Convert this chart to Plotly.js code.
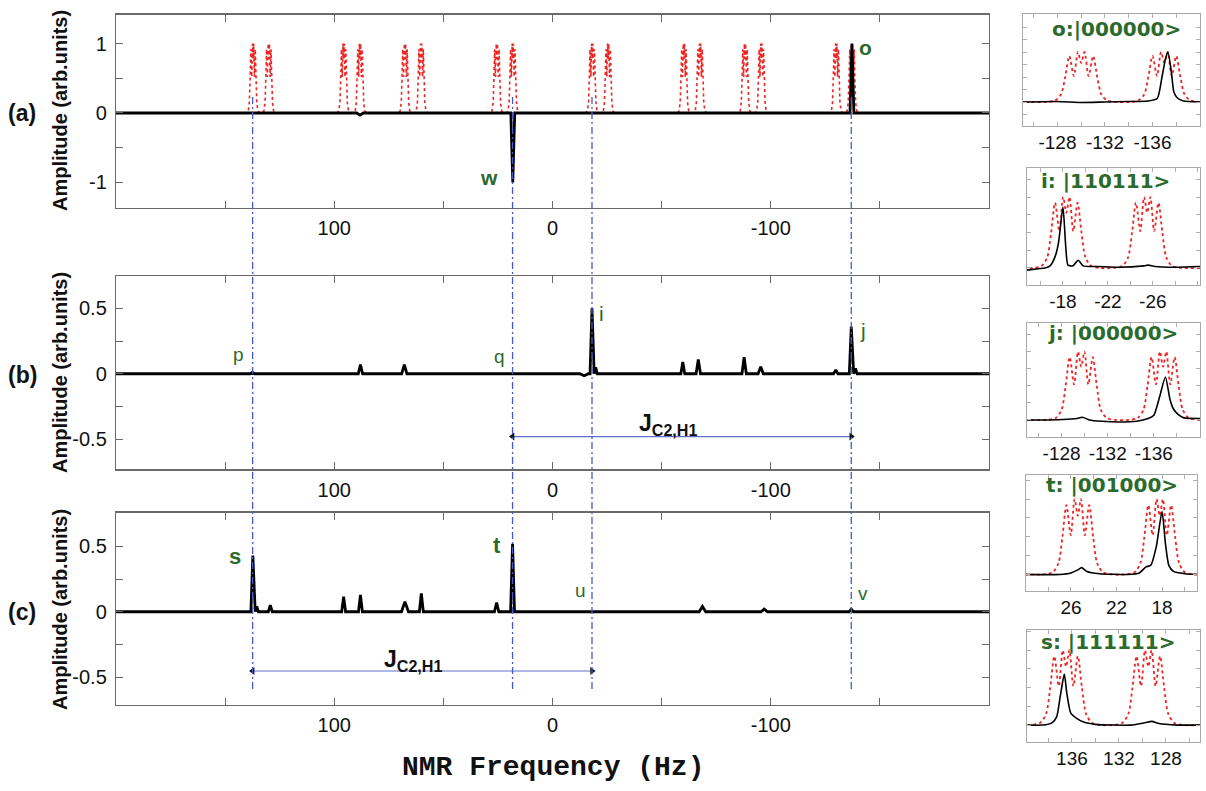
<!DOCTYPE html>
<html><head><meta charset="utf-8">
<script src="https://cdn.plot.ly/plotly-3.0.1.min.js"></script>
<style>html,body{margin:0;padding:0;background:#fff}#chart{width:1206px;height:791px}</style>
</head><body><div id="chart"></div>
<script>
// ---------------- DATA ----------------
// simulated spectrum: centres of the 16 multiplets (Hz)
const simCenters = [137.2, 130.0, 95.7, 88.2, 67.6, 60.2, 25.5, 18.2, -18.2, -25.5, -60.2, -67.6, -88.2, -95.7, -130.0, -137.2];
// line shape of one multiplet: offsets (Hz) and relative heights
const tplOffset = [-3.0, -2.2, -1.7, -1.35, -1.0, -0.62, -0.28, 0, 0.28, 0.62, 1.0, 1.35, 1.7, 2.2, 3.0];
const tplHeight = [0, 0.03, 0.15, 0.5, 0.92, 0.52, 1.0, 0.78, 1.0, 0.52, 0.92, 0.5, 0.15, 0.03, 0];

// experimental spectra: peak position (Hz), amplitude, half width (Hz)
const aHz  = [88.2, 18.2, -137.2];
const aAmp = [-0.03, -1.0, 1.0];
const aHw  = [1.5, 0.9, 0.9];

const bHz  = [137.5, 88.0, 67.9, -14.5, -18.1, -19.8, -59.7, -66.8, -87.8, -95.4, -129.8, -136.9, -138.8];
const bAmp = [0.01, 0.07, 0.07, -0.015, 0.5, 0.05, 0.09, 0.11, 0.126, 0.054, 0.03, 0.36, 0.04];
const bHw  = [1, 1, 1.2, 2, 0.9, 0.7, 0.9, 1, 1, 1.2, 1, 0.9, 0.8];

const cHz  = [137.3, 135.5, 129.3, 95.7, 88.0, 67.6, 60.1, 25.6, 18.3, -68.7, -97.0, -136.9];
const cAmp = [0.43, 0.04, 0.05, 0.115, 0.128, 0.077, 0.14, 0.07, 0.52, 0.04, 0.02, 0.02];
const cHw  = [0.9, 0.7, 0.9, 0.9, 0.9, 1.6, 0.9, 1.0, 0.9, 1.5, 1.5, 1.0];

// vertical guide lines (Hz) and J arrows
const guideHz = [137.4, 18.3, -18.1, -136.9];
const bArrow = {from: 18.3, to: -136.9, y: -0.48};
const cArrow = {from: 137.4, to: -18.1, y: -0.453};

// insets
const insetTitles  = ['o:|000000&gt;', 'i: |110111&gt;', 'j: |000000&gt;', 't: |001000&gt;', 's: |111111&gt;'];
const insetCenters = [[-130.0, -137.0], [-18.3, -25.5], [-129.7, -136.8], [25.4, 18.2], [136.5, 129.5]];
const insetRanges  = [[-125.1, -140], [-14.8, -30.2], [-125, -140], [29.95, 14.9], [139.8, 125.1]];
const insetYRanges = [[-0.48, 1.76], [-0.24, 1.41], [-0.25, 1.42], [-0.22, 1.32], [-0.23, 1.27]];
const insetTickVals = [
  [-126, -128, -130, -132, -134, -136, -138],
  [-16, -18, -20, -22, -24, -26, -28, -30],
  [-126, -128, -130, -132, -134, -136, -138],
  [28, 26, 24, 22, 20, 18, 16],
  [138, 136, 134, 132, 130, 128, 126]];
const insetTickText = [
  ['', '-128', '', '-132', '', '-136', ''],
  ['', '-18', '', '-22', '', '-26', '', ''],
  ['', '-128', '', '-132', '', '-136', ''],
  ['', '26', '', '22', '', '18', ''],
  ['', '136', '', '132', '', '128', '']];

const oHz  = [-125.1, -128, -130, -132, -134, -135.6, -136.4, -136.8, -137.1, -137.3, -137.6, -137.8, -138.1, -138.6, -140];
const oAmp = [0, 0.01, -0.01, 0, 0.01, 0.02, 0.07, 0.5, 0.87, 1.0, 0.58, 0.2, 0.08, 0.02, 0];
const iHz  = [-14.8, -15.8, -16.4, -16.85, -17.3, -17.6, -18.0, -18.25, -18.45, -18.9, -19.35, -19.8, -21, -23, -25.2, -25.6, -26.2, -28, -30.2];
const iAmp = [-0.03, -0.01, 0.0, 0.03, 0.16, 0.35, 0.86, 0.3, 0.04, 0.03, 0.11, 0.03, 0.02, 0.01, 0.03, 0.04, 0.02, 0.01, 0.02];
const jHz  = [-125, -127, -128.5, -129.3, -129.8, -130.4, -131.5, -133, -134.5, -135.5, -136.0, -136.5, -137.0, -137.4, -137.7, -138.1, -138.6, -140];
const jAmp = [0, 0, 0.01, 0.02, 0.04, 0, -0.02, -0.03, -0.02, 0.02, 0.07, 0.34, 0.63, 0.3, 0.16, 0.08, 0.03, 0.02];
const tHz  = [29.95, 27, 26, 25.4, 25.06, 24.6, 23.5, 21, 20, 19.4, 19.0, 18.5, 18.0, 17.7, 17.4, 17.0, 16, 14.9];
const tAmp = [0, 0, 0.02, 0.06, 0.09, 0.04, 0.01, 0, 0.02, 0.1, 0.12, 0.37, 0.835, 0.41, 0.12, 0.04, 0.01, 0];
const sHz  = [139.8, 138.5, 137.7, 137.3, 137.0, 136.65, 136.43, 136.1, 135.6, 135.0, 134, 131, 129.8, 129.2, 128.6, 127, 125.1];
const sAmp = [0, 0, 0.03, 0.11, 0.38, 0.68, 0.42, 0.16, 0.09, 0.04, 0.01, 0, 0.03, 0.05, 0.02, 0, 0];
const insetBlack = [[oHz, oAmp], [iHz, iAmp], [jHz, jAmp], [tHz, tAmp], [sHz, sAmp]];

// ---------------- BUILD ----------------
const W = 1206, H = 791;
const px = v => v / W, py = v => 1 - v / H;
const GREEN = '#2b6a2b', RED = 'rgb(240,35,35)', BLUE = 'rgb(70,90,205)';
const FONT = 'Liberation Sans, Arial, sans-serif';

function buildMultiplets(centers, a, b) {
  const lo = Math.min(a, b), hi = Math.max(a, b);
  const cs = centers.slice().sort((p, q) => p - q);
  const xs = [lo], ys = [0];
  cs.forEach(c => tplOffset.forEach((o, k) => { xs.push(c + o); ys.push(tplHeight[k]); }));
  xs.push(hi); ys.push(0);
  return {x: xs, y: ys};
}
function buildPeaks(hz, amp, hw) {
  const idx = hz.map((_, i) => i).sort((p, q) => hz[q] - hz[p]);
  const xs = [200], ys = [0];
  idx.forEach(i => { xs.push(hz[i] + hw[i], hz[i], hz[i] - hw[i]); ys.push(0, amp[i], 0); });
  xs.push(-200); ys.push(0);
  return {x: xs, y: ys};
}

const traces = [];
const sim = buildMultiplets(simCenters, 200, -200);
traces.push({x: sim.x, y: sim.y, xaxis: 'x', yaxis: 'y', mode: 'lines', line: {color: RED, width: 1.6, dash: 'dot'}, hoverinfo: 'skip'});
[[aHz, aAmp, aHw, ''], [bHz, bAmp, bHw, '2'], [cHz, cAmp, cHw, '3']].forEach(d => {
  const s = buildPeaks(d[0], d[1], d[2]);
  traces.push({x: s.x, y: s.y, xaxis: 'x' + d[3], yaxis: 'y' + d[3], mode: 'lines', line: {color: '#000', width: 2.8}, hoverinfo: 'skip'});
});
insetCenters.forEach((cs, k) => {
  const n = k + 4;
  const r = buildMultiplets(cs, insetRanges[k][0], insetRanges[k][1]);
  traces.push({x: r.x, y: r.y, xaxis: 'x' + n, yaxis: 'y' + n, mode: 'lines', line: {color: RED, width: 1.8, dash: 'dot', shape: 'spline', smoothing: 0.8}, hoverinfo: 'skip'});
  traces.push({x: insetBlack[k][0], y: insetBlack[k][1], xaxis: 'x' + n, yaxis: 'y' + n, mode: 'lines', line: {color: '#000', width: 1.6, shape: 'spline', smoothing: 0.6}, hoverinfo: 'skip'});
});
// J arrows: blue shaft with small black heads
[[bArrow, '2'], [cArrow, '3']].forEach(d => {
  const a = d[0], s = d[1];
  traces.push({x: [a.from, a.to], y: [a.y, a.y], xaxis: 'x' + s, yaxis: 'y' + s, mode: 'lines+markers',
    line: {color: 'rgb(95,110,205)', width: 1.2},
    marker: {symbol: ['triangle-left', 'triangle-right'], size: 7, color: '#111'}, hoverinfo: 'skip', cliponaxis: false});
});

const layout = {
  width: W, height: H, margin: {l: 0, r: 0, t: 0, b: 0},
  paper_bgcolor: '#fff', plot_bgcolor: '#fff', showlegend: false,
  font: {family: FONT, color: '#111'},
  shapes: [], annotations: []
};
const mainXDomain = [px(116), px(989)];
const mainYDomains = [[py(208), py(14.5)], [py(469.3), py(276)], [py(705), py(512.7)]];
const mainYRanges = [[-1.37, 1.42], [-0.73, 0.747], [-0.713, 0.757]];
const mainYTicks = [[[-1, -0.5, 0, 0.5, 1], ['-1', '', '0', '', '1']],
                    [[-0.5, -0.25, 0, 0.25, 0.5], ['-0.5', '', '0', '', '0.5']],
                    [[-0.5, -0.25, 0, 0.25, 0.5], ['-0.5', '', '0', '', '0.5']]];
const axCommon = {showline: true, linecolor: '#6a6a6a', linewidth: 1.2, mirror: 'allticks', ticks: 'inside', tickcolor: '#6a6a6a',
  showgrid: false, zeroline: false, fixedrange: true};
['', '2', '3'].forEach((s, k) => {
  layout['xaxis' + s] = Object.assign({}, axCommon, {domain: mainXDomain, range: [200, -200], anchor: 'y' + s,
    tickvals: [150, 100, 50, 0, -50, -100, -150], ticktext: ['', '100', '', '0', '', '-100', ''], ticklen: 7,
    tickfont: {size: 20, family: FONT, color: '#111'}, ticklabelstandoff: 2});
  layout['yaxis' + s] = Object.assign({}, axCommon, {domain: mainYDomains[k], range: mainYRanges[k], anchor: 'x' + s,
    tickvals: mainYTicks[k][0], ticktext: mainYTicks[k][1], ticklen: 7,
    tickfont: {size: 20, family: FONT, color: '#111'}, ticklabelstandoff: 4});
});
const insetXDom = [[1023, 1200], [1027, 1200], [1027, 1200], [1026, 1197.3], [1027.3, 1200]];
const insetYDom = [[126, 14], [285, 168], [437, 323], [591, 475], [742.3, 630]];
const insetTitleXY = [[1116, 29], [1105, 181], [1113, 333], [1112, 485], [1108, 642]];
const inAx = {showline: true, linecolor: '#a8a8a8', linewidth: 1, mirror: 'allticks', ticks: 'inside', tickcolor: '#b0b0b0', ticklen: 4,
  showgrid: false, zeroline: false, fixedrange: true};
for (let k = 0; k < 5; k++) {
  const n = k + 4;
  layout['xaxis' + n] = Object.assign({}, inAx, {domain: [px(insetXDom[k][0]), px(insetXDom[k][1])], range: insetRanges[k], anchor: 'y' + n,
    tickvals: insetTickVals[k], ticktext: insetTickText[k], tickfont: {size: 19, family: FONT, color: '#111'}, ticklabelstandoff: -1});
  layout['yaxis' + n] = Object.assign({}, inAx, {domain: [py(insetYDom[k][0]), py(insetYDom[k][1])], range: insetYRanges[k], anchor: 'x' + n,
    dtick: 0.25, showticklabels: false});
  layout.annotations.push({xref: 'paper', yref: 'paper', x: px(insetTitleXY[k][0]), y: py(insetTitleXY[k][1]), xanchor: 'center', yanchor: 'middle',
    text: '<b>' + insetTitles[k] + '</b>', showarrow: false, font: {family: 'DejaVu Sans', size: 20, color: GREEN}});
}
// guide lines
guideHz.forEach(h => layout.shapes.push({type: 'line', xref: 'x', yref: 'paper', x0: h, x1: h, y0: py(689), y1: py(95),
  line: {color: BLUE, width: 1.3, dash: '7px,3px,2px,3px'}, layer: 'above'}));
// J labels
[['2', -53, -0.385], ['3', 63.8, -0.37]].forEach(d => {
  layout.annotations.push({xref: 'x' + d[0], yref: 'y' + d[0], x: d[1], y: d[2], text: '<b>J<sub>C2,H1</sub></b>', showarrow: false,
    font: {family: FONT, size: 23, color: '#111'}, xanchor: 'center', yanchor: 'middle'});
});
// peak labels
const peakLabels = [
  ['o', '', -143.5, 0.94, true, 21], ['w', '', 29, -0.93, true, 21],
  ['p', '2', 143.8, 0.145, false, 19], ['q', '2', 24.4, 0.13, false, 19], ['i', '2', -22.4, 0.46, false, 21], ['j', '2', -142.3, 0.33, false, 21],
  ['s', '3', 145.7, 0.42, true, 22], ['t', '3', 25.6, 0.51, true, 22], ['u', '3', -12.7, 0.166, false, 19], ['v', '3', -142.2, 0.14, false, 19]];
peakLabels.forEach(l => layout.annotations.push({xref: 'x' + l[1], yref: 'y' + l[1], x: l[2], y: l[3], showarrow: false,
  text: l[4] ? '<b>' + l[0] + '</b>' : l[0], font: {family: FONT, size: l[5], color: GREEN}, xanchor: 'center', yanchor: 'middle'}));
// axis titles and panel labels
[111, 373, 610].forEach((yy, k) => {
  layout.annotations.push({xref: 'paper', yref: 'paper', x: px(60), y: py(yy), textangle: -90, showarrow: false,
    text: '<b>Amplitude (arb.units)</b>', font: {family: FONT, size: 20, color: '#111'}, xanchor: 'center', yanchor: 'middle'});
  layout.annotations.push({xref: 'paper', yref: 'paper', x: px(22), y: py([113, 375, 612][k]), showarrow: false,
    text: '<b>' + ['(a)', '(b)', '(c)'][k] + '</b>', font: {family: FONT, size: 23, color: '#111'}, xanchor: 'center', yanchor: 'middle'});
});
layout.annotations.push({xref: 'paper', yref: 'paper', x: px(553), y: py(767), showarrow: false, xanchor: 'center', yanchor: 'middle',
  text: '<b>NMR Frequency (Hz)</b>', font: {family: 'Liberation Mono, Courier New, monospace', size: 28, color: '#111'}});

Plotly.newPlot('chart', traces, layout, {staticPlot: true, displayModeBar: false});
</script></body></html>
